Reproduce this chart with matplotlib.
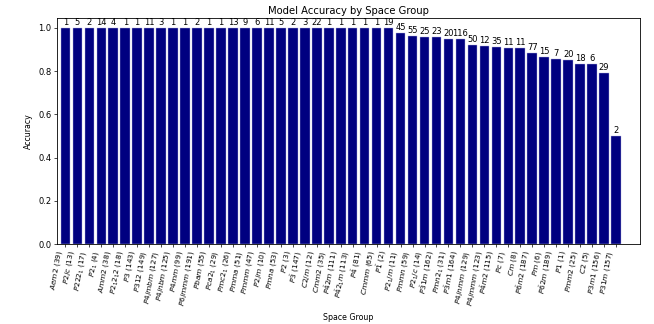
import matplotlib
matplotlib.use("Agg")
import matplotlib.pyplot as plt

labels = [
    r"$Aem2$ (39)", r"$P2/c$ (13)", r"$P222_1$ (17)", r"$P2_1$ (4)", r"$Amm2$ (38)",
    r"$P2_12_12$ (18)", r"$P3$ (143)", r"$P312$ (149)", r"$P4/mbm$ (127)", r"$P4/nbm$ (125)",
    r"$P4mm$ (99)", r"$P6/mmm$ (191)", r"$Pbam$ (55)", r"$Pca2_1$ (29)", r"$Pmc2_1$ (26)",
    r"$Pmma$ (51)", r"$Pmmm$ (47)", r"$P2/m$ (10)", r"$Pmna$ (53)", r"$P2$ (3)",
    r"$P\bar{3}$ (147)", r"$C2/m$ (12)", r"$Cmm2$ (35)", r"$P\bar{4}2m$ (111)", r"$P\bar{4}2_1m$ (113)",
    r"$P\bar{4}$ (81)", r"$Cmmm$ (65)", r"$P\bar{1}$ (2)", r"$P2_1/m$ (11)", r"$Pmmn$ (59)",
    r"$P2_1/c$ (14)", r"$P\bar{3}1m$ (162)", r"$Pmn2_1$ (31)", r"$P\bar{3}m1$ (164)", r"$P4/nmm$ (129)",
    r"$P4/mmm$ (123)", r"$P\bar{4}m2$ (115)", r"$Pc$ (7)", r"$Cm$ (8)", r"$P\bar{6}m2$ (187)",
    r"$Pm$ (6)", r"$P\bar{6}2m$ (189)", r"$P1$ (1)", r"$Pmm2$ (25)", r"$C2$ (5)",
    r"$P3m1$ (156)", r"$P31m$ (157)",
]

counts = [1, 5, 2, 14, 4, 1, 1, 11, 3, 1, 1, 2, 1, 1, 13, 9, 6, 11, 5, 2, 3, 22, 1, 1, 1, 1, 1, 19,
          45, 55, 25, 23, 20, 116, 50, 12, 35, 11, 11, 77, 15, 7, 20, 18, 6, 29, 2]

accuracy = [1.0] * 28 + [0.978, 0.964, 0.96, 0.957, 0.95, 0.948, 0.92, 0.917, 0.914,
                         0.909, 0.909, 0.883, 0.867, 0.857, 0.85, 0.833, 0.833, 0.793, 0.5]

fs = 5.3
fig = plt.figure(figsize=(6.54, 3.24), dpi=100)
ax = fig.add_axes([57 / 654, 1 - 244 / 324, (640 - 57) / 654, (244 - 18) / 324])
x = list(range(len(labels)))
bars = ax.bar(x, accuracy, width=0.8, color="navy", edgecolor="#b0b0e0", linewidth=0.3)
for xi, a, c in zip(x, accuracy, counts):
    ax.text(xi, a + 0.004, str(c), ha="center", va="bottom", fontsize=6.0)
ax.set_xticks(x)
ax.set_xticklabels(labels, rotation=80, ha="right", fontsize=fs, rotation_mode="default")
ax.tick_params(axis="both", labelsize=fs, length=2.5, width=0.5, pad=1.5)
ax.tick_params(axis="y", labelsize=6.0)
ax.set_xlim(-0.7, 48.0)
ax.set_ylim(0, 1.046)
ax.set_yticks([0.0, 0.2, 0.4, 0.6, 0.8, 1.0])
ax.set_ylabel("Accuracy", fontsize=5.7)
ax.set_xlabel("Space Group", fontsize=5.7, labelpad=4)
ax.set_title("Model Accuracy by Space Group", fontsize=7.2, pad=3)
for s in ax.spines.values():
    s.set_linewidth(0.6)
fig.savefig("out.png", dpi=100)
